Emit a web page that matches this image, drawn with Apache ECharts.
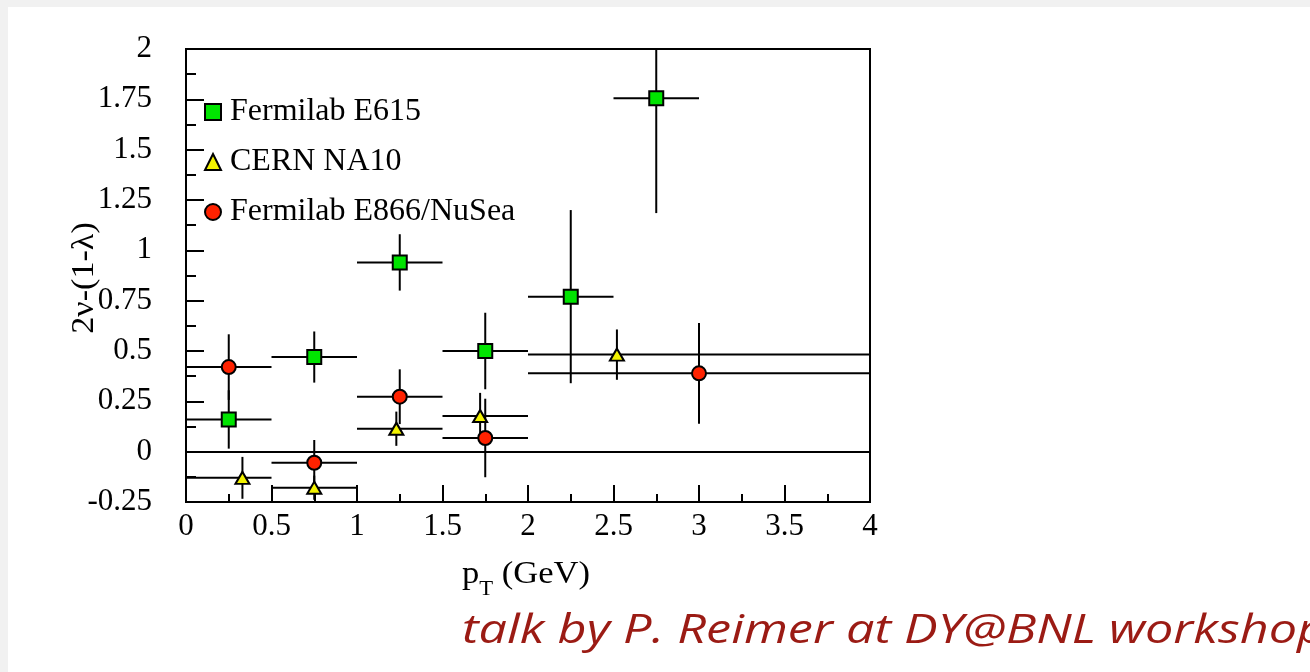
<!DOCTYPE html>
<html>
<head>
<meta charset="utf-8">
<script src="https://cdn.jsdelivr.net/npm/echarts@6/dist/echarts.min.js"></script>
<style>
html,body{margin:0;padding:0;background:#fff;}
#chart{width:1310px;height:672px;}
</style>
</head>
<body>
<div id="chart"></div>
<script>
// ---- data ----
const seriesNames = ['Fermilab E615', 'CERN NA10', 'Fermilab E866/NuSea'];

const e615Pt    = [0.25, 0.75, 1.25, 1.75, 2.25, 2.75];
const e615Val   = [0.16, 0.47, 0.94, 0.50, 0.77, 1.755];
const e615PtLo  = [0.0, 0.5, 1.0, 1.5, 2.0, 2.5];
const e615PtHi  = [0.5, 1.0, 1.5, 2.0, 2.5, 3.0];
const e615Err   = [0.145, 0.127, 0.14, 0.19, 0.43, 0.57];

const na10Pt    = [0.33, 0.75, 1.23, 1.72, 2.52];
const na10Val   = [-0.13, -0.179, 0.114, 0.177, 0.482];
const na10PtLo  = [0.0, 0.5, 1.0, 1.5, 2.0];
const na10PtHi  = [0.5, 1.0, 1.5, 2.0, 4.0];
const na10Err   = [0.104, 0.06, 0.085, 0.115, 0.125];

const e866Pt    = [0.25, 0.75, 1.25, 1.75, 3.0];
const e866Val   = [0.42, -0.055, 0.273, 0.068, 0.389];
const e866PtLo  = [0.0, 0.5, 1.0, 1.5, 2.0];
const e866PtHi  = [0.5, 1.0, 1.5, 2.0, 4.0];
const e866Err   = [0.163, 0.113, 0.136, 0.195, 0.25];

const X_MIN = 0, X_MAX = 4, X_STEP = 0.5;
const Y_MIN = -0.25, Y_MAX = 2, Y_STEP = 0.25;

// ---- build ----
const SERIF = '"Liberation Serif", "Times New Roman", serif';
function rows(pt, val, lo, hi, err) {
  return pt.map((p, i) => [p, val[i], lo[i], hi[i], err[i]]);
}
function errBars(params, api) {
  const x = api.value(0), y = api.value(1), xl = api.value(2), xh = api.value(3), e = api.value(4);
  const yl = Math.max(y - e, Y_MIN), yh = Math.min(y + e, Y_MAX);
  const a = api.coord([xl, y]), b = api.coord([xh, y]);
  const c = api.coord([x, yh]), d = api.coord([x, yl]);
  const st = { stroke: '#000', lineWidth: 2 };
  return { type: 'group', children: [
    { type: 'line', shape: { x1: a[0], y1: a[1], x2: b[0], y2: b[1] }, style: st },
    { type: 'line', shape: { x1: c[0], y1: c[1], x2: d[0], y2: d[1] }, style: st }
  ]};
}
function errSeries(data) {
  return { type: 'custom', renderItem: errBars, data: data, z: 2, silent: true,
           encode: { x: 0, y: 1 } };
}
function markerSeries(name, data, symbol, size, color) {
  return { type: 'scatter', name: name, data: data.map(r => [r[0], r[1]]), symbol: symbol,
           symbolSize: size, z: 4, silent: true,
           itemStyle: { color: color, borderColor: '#000', borderWidth: 2, opacity: 1 } };
}
const d615 = rows(e615Pt, e615Val, e615PtLo, e615PtHi, e615Err);
const dNA10 = rows(na10Pt, na10Val, na10PtLo, na10PtHi, na10Err);
const d866 = rows(e866Pt, e866Val, e866PtLo, e866PtHi, e866Err);

const chart = echarts.init(document.getElementById('chart'), null, { renderer: 'canvas' });
const axisLbl = { color: '#000', fontFamily: SERIF, fontSize: 31 };
const option = {
  backgroundColor: '#fff',
  animation: false,
  grid: { left: 186, right: 440, top: 49, bottom: 170, show: true, borderColor: '#000', borderWidth: 2, backgroundColor: 'transparent' },
  legend: {
    data: seriesNames, orient: 'vertical', left: 199, top: 90, itemWidth: 16, itemHeight: 16,
    itemGap: 16, selectedMode: false,
    textStyle: { color: '#000', fontFamily: SERIF, fontSize: 32, lineHeight: 34, padding: [0, 0, 0, 4] }
  },
  xAxis: {
    type: 'value', min: X_MIN, max: X_MAX, interval: X_STEP,
    axisLine: { onZero: false, lineStyle: { color: '#000', width: 2 } },
    axisTick: { inside: true, length: 17, lineStyle: { color: '#000', width: 2 } },
    minorTick: { show: true, splitNumber: 2, length: 8, lineStyle: { color: '#000', width: 2 } },
    splitLine: { show: false },
    axisLabel: Object.assign({ margin: 9 }, axisLbl)
  },
  yAxis: {
    type: 'value', min: Y_MIN, max: Y_MAX, interval: Y_STEP,
    axisLine: { onZero: false, lineStyle: { color: '#000', width: 2 } },
    axisTick: { inside: true, length: 18, lineStyle: { color: '#000', width: 2 } },
    minorTick: { show: true, splitNumber: 2, length: 10, lineStyle: { color: '#000', width: 2 } },
    splitLine: { show: false },
    axisLabel: Object.assign({ margin: 34 }, axisLbl)
  },
  series: [
    Object.assign(errSeries(d615), {
      markLine: { silent: true, symbol: 'none', label: { show: false },
                  lineStyle: { color: '#000', width: 2, type: 'solid' },
                  data: [{ yAxis: 0 }] }
    }),
    errSeries(dNA10),
    errSeries(d866),
    markerSeries(seriesNames[0], d615, 'rect', 14, '#00e400'),
    markerSeries(seriesNames[1], dNA10, 'triangle', [14, 12], '#f2f200'),
    markerSeries(seriesNames[2], d866, 'circle', 14, '#ff2200')
  ],
  graphic: [
    { type: 'rect', shape: { x: 0, y: 0, width: 8, height: 672 }, style: { fill: '#f1f1f1' }, silent: true },
    { type: 'rect', shape: { x: 0, y: 0, width: 1310, height: 7 }, style: { fill: '#f1f1f1' }, silent: true },
    { type: 'text', x: 85, y: 278, rotation: Math.PI / 2, scaleX: 1.1,
      style: { text: '2ν-(1-λ)', fill: '#000', font: '31px ' + SERIF, align: 'center', verticalAlign: 'middle' } },
    { type: 'text', x: 462, y: 575, scaleX: 1.08,
      style: { text: '{p|p}{t|T}{g| (GeV)}', fill: '#000', align: 'left', verticalAlign: 'middle',
               rich: { p: { fontFamily: SERIF, fontSize: 32, lineHeight: 38, verticalAlign: 'middle' },
                       t: { fontFamily: SERIF, fontSize: 21, lineHeight: 38, verticalAlign: 'bottom', padding: [0, 0, -6, 0] },
                       g: { fontFamily: SERIF, fontSize: 32, lineHeight: 38, verticalAlign: 'middle' } } } },
    { type: 'text', x: 462, y: 632, scaleX: 1.26,
      style: { text: 'talk by P. Reimer at DY@BNL workshop', fill: '#9b1b14',
               font: 'italic 40px "Open Sans", Lato, sans-serif', align: 'left', verticalAlign: 'middle' } }
  ]
};
chart.setOption(option);
</script>
</body>
</html>
